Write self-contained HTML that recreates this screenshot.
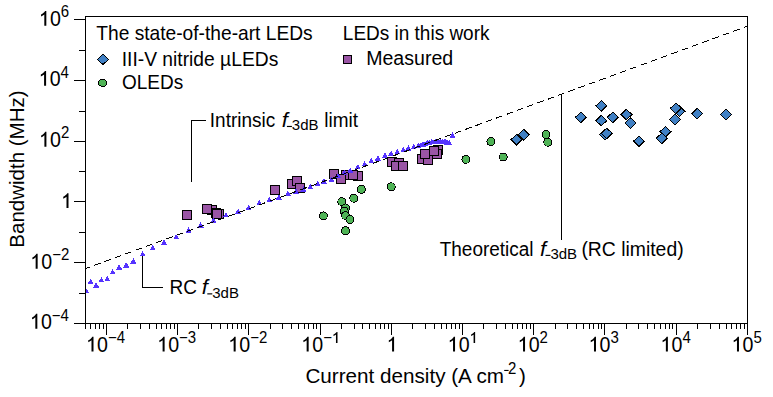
<!DOCTYPE html><html><head><meta charset="utf-8"><style>html,body{margin:0;padding:0;background:#fff;overflow:hidden}svg{display:block}</style></head><body><svg width="773" height="397" viewBox="0 0 773 397">
<rect width="773" height="397" fill="#fff"/>
<path d="M74,19.5H85 M74,80.5H85 M74,141.5H85 M74,201.5H85 M74,262.5H85 M74,323.5H85 M79,50.5H85 M79,111.5H85 M79,171.5H85 M79,232.5H85 M79,293.5H85 M85.5,323V329 M90.5,323V329 M95.5,323V329 M99.5,323V329 M103.5,323V329 M106.5,323V335 M127.5,323V329 M140.5,323V329 M149.5,323V329 M156.5,323V329 M161.5,323V329 M166.5,323V329 M170.5,323V329 M174.5,323V329 M177.5,323V335 M198.5,323V329 M211.5,323V329 M220.5,323V329 M227.5,323V329 M232.5,323V329 M237.5,323V329 M241.5,323V329 M245.5,323V329 M248.5,323V335 M270.5,323V329 M282.5,323V329 M291.5,323V329 M298.5,323V329 M304.5,323V329 M308.5,323V329 M313.5,323V329 M316.5,323V329 M320.5,323V335 M341.5,323V329 M354.5,323V329 M362.5,323V329 M369.5,323V329 M375.5,323V329 M380.5,323V329 M384.5,323V329 M388.5,323V329 M391.5,323V335 M412.5,323V329 M425.5,323V329 M434.5,323V329 M441.5,323V329 M446.5,323V329 M451.5,323V329 M455.5,323V329 M459.5,323V329 M462.5,323V335 M483.5,323V329 M496.5,323V329 M505.5,323V329 M512.5,323V329 M517.5,323V329 M522.5,323V329 M526.5,323V329 M530.5,323V329 M533.5,323V335 M555.5,323V329 M567.5,323V329 M576.5,323V329 M583.5,323V329 M589.5,323V329 M593.5,323V329 M598.5,323V329 M601.5,323V329 M604.5,323V335 M626.5,323V329 M638.5,323V329 M647.5,323V329 M654.5,323V329 M660.5,323V329 M665.5,323V329 M669.5,323V329 M672.5,323V329 M676.5,323V335 M697.5,323V329 M710.5,323V329 M719.5,323V329 M726.5,323V329 M731.5,323V329 M736.5,323V329 M740.5,323V329 M744.5,323V329 M747.5,323V335" stroke="#000" stroke-width="1" fill="none" shape-rendering="crispEdges"/>
<defs><clipPath id="pc"><rect x="85.5" y="16.5" width="662.0" height="307.0"/></clipPath></defs>
<g clip-path="url(#pc)">
<circle cx="323.3" cy="215.9" r="4" fill="#4fb356" stroke="#000" stroke-width="1" shape-rendering="crispEdges"/>
<circle cx="341.8" cy="201.7" r="4" fill="#4fb356" stroke="#000" stroke-width="1" shape-rendering="crispEdges"/>
<circle cx="345.5" cy="207.9" r="4" fill="#4fb356" stroke="#000" stroke-width="1" shape-rendering="crispEdges"/>
<circle cx="344.4" cy="211.4" r="4" fill="#4fb356" stroke="#000" stroke-width="1" shape-rendering="crispEdges"/>
<circle cx="345.5" cy="215.5" r="4" fill="#4fb356" stroke="#000" stroke-width="1" shape-rendering="crispEdges"/>
<circle cx="349.9" cy="219.4" r="4" fill="#4fb356" stroke="#000" stroke-width="1" shape-rendering="crispEdges"/>
<circle cx="345.5" cy="230.8" r="4" fill="#4fb356" stroke="#000" stroke-width="1" shape-rendering="crispEdges"/>
<circle cx="353.8" cy="198.2" r="4" fill="#4fb356" stroke="#000" stroke-width="1" shape-rendering="crispEdges"/>
<circle cx="361.4" cy="189.4" r="4" fill="#4fb356" stroke="#000" stroke-width="1" shape-rendering="crispEdges"/>
<circle cx="391.2" cy="186.8" r="4" fill="#4fb356" stroke="#000" stroke-width="1" shape-rendering="crispEdges"/>
<circle cx="465.9" cy="159.3" r="4" fill="#4fb356" stroke="#000" stroke-width="1" shape-rendering="crispEdges"/>
<circle cx="490.9" cy="141.7" r="4" fill="#4fb356" stroke="#000" stroke-width="1" shape-rendering="crispEdges"/>
<circle cx="503.2" cy="157.0" r="4" fill="#4fb356" stroke="#000" stroke-width="1" shape-rendering="crispEdges"/>
<circle cx="546.0" cy="134.7" r="4" fill="#4fb356" stroke="#000" stroke-width="1" shape-rendering="crispEdges"/>
<circle cx="547.8" cy="142.2" r="4" fill="#4fb356" stroke="#000" stroke-width="1" shape-rendering="crispEdges"/>
<path d="M511.10,139.6L516.6,134.30L522.10,139.6L516.6,144.90Z" fill="#4080c4" stroke="#000" stroke-width="1" shape-rendering="crispEdges"/>
<path d="M518.20,134.7L523.7,129.40L529.20,134.7L523.7,140.00Z" fill="#4080c4" stroke="#000" stroke-width="1" shape-rendering="crispEdges"/>
<path d="M575.40,117.3L580.9,112.00L586.40,117.3L580.9,122.60Z" fill="#4080c4" stroke="#000" stroke-width="1" shape-rendering="crispEdges"/>
<path d="M595.80,105.9L601.3,100.60L606.80,105.9L601.3,111.20Z" fill="#4080c4" stroke="#000" stroke-width="1" shape-rendering="crispEdges"/>
<path d="M595.80,120.6L601.3,115.30L606.80,120.6L601.3,125.90Z" fill="#4080c4" stroke="#000" stroke-width="1" shape-rendering="crispEdges"/>
<path d="M607.30,117.3L612.8,112.00L618.30,117.3L612.8,122.60Z" fill="#4080c4" stroke="#000" stroke-width="1" shape-rendering="crispEdges"/>
<path d="M599.60,134.5L605.1,129.20L610.60,134.5L605.1,139.80Z" fill="#4080c4" stroke="#000" stroke-width="1" shape-rendering="crispEdges"/>
<path d="M601.20,133.4L606.7,128.10L612.20,133.4L606.7,138.70Z" fill="#4080c4" stroke="#000" stroke-width="1" shape-rendering="crispEdges"/>
<path d="M620.90,114.5L626.4,109.20L631.90,114.5L626.4,119.80Z" fill="#4080c4" stroke="#000" stroke-width="1" shape-rendering="crispEdges"/>
<path d="M625.00,123.1L630.5,117.80L636.00,123.1L630.5,128.40Z" fill="#4080c4" stroke="#000" stroke-width="1" shape-rendering="crispEdges"/>
<path d="M633.50,141.2L639,135.90L644.50,141.2L639,146.50Z" fill="#4080c4" stroke="#000" stroke-width="1" shape-rendering="crispEdges"/>
<path d="M660.00,131.7L665.5,126.40L671.00,131.7L665.5,137.00Z" fill="#4080c4" stroke="#000" stroke-width="1" shape-rendering="crispEdges"/>
<path d="M656.30,138.3L661.8,133.00L667.30,138.3L661.8,143.60Z" fill="#4080c4" stroke="#000" stroke-width="1" shape-rendering="crispEdges"/>
<path d="M669.40,119.5L674.9,114.20L680.40,119.5L674.9,124.80Z" fill="#4080c4" stroke="#000" stroke-width="1" shape-rendering="crispEdges"/>
<path d="M674.00,111.3L679.5,106.00L685.00,111.3L679.5,116.60Z" fill="#4080c4" stroke="#000" stroke-width="1" shape-rendering="crispEdges"/>
<path d="M670.40,108.3L675.9,103.00L681.40,108.3L675.9,113.60Z" fill="#4080c4" stroke="#000" stroke-width="1" shape-rendering="crispEdges"/>
<path d="M691.60,113.7L697.1,108.40L702.60,113.7L697.1,119.00Z" fill="#4080c4" stroke="#000" stroke-width="1" shape-rendering="crispEdges"/>
<path d="M720.60,114.5L726.1,109.20L731.60,114.5L726.1,119.80Z" fill="#4080c4" stroke="#000" stroke-width="1" shape-rendering="crispEdges"/>
<rect x="182.5" y="210.5" width="9" height="9" fill="#9a55a5" stroke="#000" stroke-width="1" shape-rendering="crispEdges"/>
<rect x="207.5" y="205.5" width="9" height="9" fill="#9a55a5" stroke="#000" stroke-width="1" shape-rendering="crispEdges"/>
<rect x="202.5" y="204.5" width="9" height="9" fill="#9a55a5" stroke="#000" stroke-width="1" shape-rendering="crispEdges"/>
<rect x="211.5" y="208.5" width="9" height="9" fill="#9a55a5" stroke="#000" stroke-width="1" shape-rendering="crispEdges"/>
<rect x="214.5" y="209.5" width="9" height="9" fill="#9a55a5" stroke="#000" stroke-width="1" shape-rendering="crispEdges"/>
<rect x="212.5" y="209.5" width="9" height="9" fill="#9a55a5" stroke="#000" stroke-width="1" shape-rendering="crispEdges"/>
<rect x="270.5" y="185.5" width="9" height="9" fill="#9a55a5" stroke="#000" stroke-width="1" shape-rendering="crispEdges"/>
<rect x="287.5" y="179.5" width="9" height="9" fill="#9a55a5" stroke="#000" stroke-width="1" shape-rendering="crispEdges"/>
<rect x="292.5" y="176.5" width="9" height="9" fill="#9a55a5" stroke="#000" stroke-width="1" shape-rendering="crispEdges"/>
<rect x="295.5" y="183.5" width="9" height="9" fill="#9a55a5" stroke="#000" stroke-width="1" shape-rendering="crispEdges"/>
<rect x="329.5" y="169.5" width="9" height="9" fill="#9a55a5" stroke="#000" stroke-width="1" shape-rendering="crispEdges"/>
<rect x="341.5" y="170.5" width="9" height="9" fill="#9a55a5" stroke="#000" stroke-width="1" shape-rendering="crispEdges"/>
<rect x="353.5" y="171.5" width="9" height="9" fill="#9a55a5" stroke="#000" stroke-width="1" shape-rendering="crispEdges"/>
<rect x="336.5" y="174.5" width="9" height="9" fill="#9a55a5" stroke="#000" stroke-width="1" shape-rendering="crispEdges"/>
<rect x="348.5" y="170.5" width="9" height="9" fill="#9a55a5" stroke="#000" stroke-width="1" shape-rendering="crispEdges"/>
<rect x="387.5" y="157.5" width="9" height="9" fill="#9a55a5" stroke="#000" stroke-width="1" shape-rendering="crispEdges"/>
<rect x="394.5" y="158.5" width="9" height="9" fill="#9a55a5" stroke="#000" stroke-width="1" shape-rendering="crispEdges"/>
<rect x="391.5" y="161.5" width="9" height="9" fill="#9a55a5" stroke="#000" stroke-width="1" shape-rendering="crispEdges"/>
<rect x="398.5" y="161.5" width="9" height="9" fill="#9a55a5" stroke="#000" stroke-width="1" shape-rendering="crispEdges"/>
<rect x="417.5" y="154.5" width="9" height="9" fill="#9a55a5" stroke="#000" stroke-width="1" shape-rendering="crispEdges"/>
<rect x="423.5" y="155.5" width="9" height="9" fill="#9a55a5" stroke="#000" stroke-width="1" shape-rendering="crispEdges"/>
<rect x="420.5" y="149.5" width="9" height="9" fill="#9a55a5" stroke="#000" stroke-width="1" shape-rendering="crispEdges"/>
<rect x="433.5" y="145.5" width="9" height="9" fill="#9a55a5" stroke="#000" stroke-width="1" shape-rendering="crispEdges"/>
<rect x="432.5" y="149.5" width="9" height="9" fill="#9a55a5" stroke="#000" stroke-width="1" shape-rendering="crispEdges"/>
<rect x="429.5" y="146.5" width="9" height="9" fill="#9a55a5" stroke="#000" stroke-width="1" shape-rendering="crispEdges"/>
<path d="M83.20,293.40L89.20,293.40L86.2,288.00Z" fill="#5533ff" shape-rendering="crispEdges"/>
<path d="M87.60,284.10L93.60,284.10L90.6,278.70Z" fill="#5533ff" shape-rendering="crispEdges"/>
<path d="M93.20,287.60L99.20,287.60L96.2,282.20Z" fill="#5533ff" shape-rendering="crispEdges"/>
<path d="M98.50,282.30L104.50,282.30L101.5,276.90Z" fill="#5533ff" shape-rendering="crispEdges"/>
<path d="M104.30,281.10L110.30,281.10L107.3,275.70Z" fill="#5533ff" shape-rendering="crispEdges"/>
<path d="M109.60,274.40L115.60,274.40L112.6,269.00Z" fill="#5533ff" shape-rendering="crispEdges"/>
<path d="M116.20,269.60L122.20,269.60L119.2,264.20Z" fill="#5533ff" shape-rendering="crispEdges"/>
<path d="M123.20,267.50L129.20,267.50L126.2,262.10Z" fill="#5533ff" shape-rendering="crispEdges"/>
<path d="M130.30,263.50L136.30,263.50L133.3,258.10Z" fill="#5533ff" shape-rendering="crispEdges"/>
<path d="M139.60,256.40L145.60,256.40L142.6,251.00Z" fill="#5533ff" shape-rendering="crispEdges"/>
<path d="M149.70,250.20L155.70,250.20L152.7,244.80Z" fill="#5533ff" shape-rendering="crispEdges"/>
<path d="M161.10,244.60L167.10,244.60L164.1,239.20Z" fill="#5533ff" shape-rendering="crispEdges"/>
<path d="M173.10,239.30L179.10,239.30L176.1,233.90Z" fill="#5533ff" shape-rendering="crispEdges"/>
<path d="M185.50,232.80L191.50,232.80L188.5,227.40Z" fill="#5533ff" shape-rendering="crispEdges"/>
<path d="M197.60,227.50L203.60,227.50L200.6,222.10Z" fill="#5533ff" shape-rendering="crispEdges"/>
<path d="M210.30,222.70L216.30,222.70L213.3,217.30Z" fill="#5533ff" shape-rendering="crispEdges"/>
<path d="M223.00,217.40L229.00,217.40L226,212.00Z" fill="#5533ff" shape-rendering="crispEdges"/>
<path d="M235.10,214.00L241.10,214.00L238.1,208.60Z" fill="#5533ff" shape-rendering="crispEdges"/>
<path d="M245.60,210.00L251.60,210.00L248.6,204.60Z" fill="#5533ff" shape-rendering="crispEdges"/>
<path d="M256.30,205.30L262.30,205.30L259.3,199.90Z" fill="#5533ff" shape-rendering="crispEdges"/>
<path d="M266.40,201.90L272.40,201.90L269.4,196.50Z" fill="#5533ff" shape-rendering="crispEdges"/>
<path d="M275.90,199.50L281.90,199.50L278.9,194.10Z" fill="#5533ff" shape-rendering="crispEdges"/>
<path d="M284.90,195.90L290.90,195.90L287.9,190.50Z" fill="#5533ff" shape-rendering="crispEdges"/>
<path d="M292.90,193.60L298.90,193.60L295.9,188.20Z" fill="#5533ff" shape-rendering="crispEdges"/>
<path d="M300.40,191.60L306.40,191.60L303.4,186.20Z" fill="#5533ff" shape-rendering="crispEdges"/>
<path d="M307.20,189.30L313.20,189.30L310.2,183.90Z" fill="#5533ff" shape-rendering="crispEdges"/>
<path d="M314.80,186.30L320.80,186.30L317.8,180.90Z" fill="#5533ff" shape-rendering="crispEdges"/>
<path d="M320.80,183.60L326.80,183.60L323.8,178.20Z" fill="#5533ff" shape-rendering="crispEdges"/>
<path d="M328.40,181.80L334.40,181.80L331.4,176.40Z" fill="#5533ff" shape-rendering="crispEdges"/>
<path d="M335.20,178.40L341.20,178.40L338.2,173.00Z" fill="#5533ff" shape-rendering="crispEdges"/>
<path d="M341.20,175.00L347.20,175.00L344.2,169.60Z" fill="#5533ff" shape-rendering="crispEdges"/>
<path d="M347.20,172.70L353.20,172.70L350.2,167.30Z" fill="#5533ff" shape-rendering="crispEdges"/>
<path d="M354.80,169.40L360.80,169.40L357.8,164.00Z" fill="#5533ff" shape-rendering="crispEdges"/>
<path d="M361.60,166.40L367.60,166.40L364.6,161.00Z" fill="#5533ff" shape-rendering="crispEdges"/>
<path d="M368.40,163.30L374.40,163.30L371.4,157.90Z" fill="#5533ff" shape-rendering="crispEdges"/>
<path d="M374.90,160.60L380.90,160.60L377.9,155.20Z" fill="#5533ff" shape-rendering="crispEdges"/>
<path d="M382.00,157.90L388.00,157.90L385,152.50Z" fill="#5533ff" shape-rendering="crispEdges"/>
<path d="M388.20,155.80L394.20,155.80L391.2,150.40Z" fill="#5533ff" shape-rendering="crispEdges"/>
<path d="M394.30,154.10L400.30,154.10L397.3,148.70Z" fill="#5533ff" shape-rendering="crispEdges"/>
<path d="M400.20,152.30L406.20,152.30L403.2,146.90Z" fill="#5533ff" shape-rendering="crispEdges"/>
<path d="M405.40,150.50L411.40,150.50L408.4,145.10Z" fill="#5533ff" shape-rendering="crispEdges"/>
<path d="M410.70,149.10L416.70,149.10L413.7,143.70Z" fill="#5533ff" shape-rendering="crispEdges"/>
<path d="M415.50,147.90L421.50,147.90L418.5,142.50Z" fill="#5533ff" shape-rendering="crispEdges"/>
<path d="M418.00,147.40L424.00,147.40L421,142.00Z" fill="#5533ff" shape-rendering="crispEdges"/>
<path d="M419.90,146.60L425.90,146.60L422.9,141.20Z" fill="#5533ff" shape-rendering="crispEdges"/>
<path d="M422.00,146.10L428.00,146.10L425,140.70Z" fill="#5533ff" shape-rendering="crispEdges"/>
<path d="M424.30,145.20L430.30,145.20L427.3,139.80Z" fill="#5533ff" shape-rendering="crispEdges"/>
<path d="M426.50,145.10L432.50,145.10L429.5,139.70Z" fill="#5533ff" shape-rendering="crispEdges"/>
<path d="M428.70,144.40L434.70,144.40L431.7,139.00Z" fill="#5533ff" shape-rendering="crispEdges"/>
<path d="M431.00,144.10L437.00,144.10L434,138.70Z" fill="#5533ff" shape-rendering="crispEdges"/>
<path d="M433.10,143.50L439.10,143.50L436.1,138.10Z" fill="#5533ff" shape-rendering="crispEdges"/>
<path d="M435.30,143.80L441.30,143.80L438.3,138.40Z" fill="#5533ff" shape-rendering="crispEdges"/>
<path d="M437.50,143.80L443.50,143.80L440.5,138.40Z" fill="#5533ff" shape-rendering="crispEdges"/>
<path d="M439.70,144.10L445.70,144.10L442.7,138.70Z" fill="#5533ff" shape-rendering="crispEdges"/>
<path d="M442.00,143.80L448.00,143.80L445,138.40Z" fill="#5533ff" shape-rendering="crispEdges"/>
<path d="M444.20,144.60L450.20,144.60L447.2,139.20Z" fill="#5533ff" shape-rendering="crispEdges"/>
<path d="M446.40,145.20L452.40,145.20L449.4,139.80Z" fill="#5533ff" shape-rendering="crispEdges"/>
<path d="M449.50,137.70L455.50,137.70L452.5,132.30Z" fill="#5533ff" shape-rendering="crispEdges"/>
<path d="M85.7,268.5L747.5,26.1" stroke="#000" stroke-width="1" stroke-dasharray="6.7 4.277" stroke-dashoffset="1.93" fill="none" shape-rendering="crispEdges"/>
</g>
<rect x="85.5" y="16.5" width="662" height="307" fill="none" stroke="#000" stroke-width="1" shape-rendering="crispEdges"/>
<path d="M191.5,182V120.5H206 M142.5,256V287.5H163 M561.5,94V240" stroke="#000" stroke-width="1" fill="none" shape-rendering="crispEdges"/>
<path transform="translate(39.02,25.80) scale(0.00957,-0.01061)" d="M763 0L553 0L553 1070Q498 1020 402 966Q306 912 213 882L213 1060Q362 1126 474 1222Q586 1318 633 1400L763 1400Z" fill="#000"/><text transform="translate(49.92,25.80) scale(0.956,1.06)" font-family="Liberation Sans, sans-serif" font-size="20.5">0</text>
<text transform="translate(60.82,16.70) scale(1.0,1.08)" font-family="Liberation Sans, sans-serif" font-size="15">6</text>
<path transform="translate(38.80,85.80) scale(0.00957,-0.01061)" d="M763 0L553 0L553 1070Q498 1020 402 966Q306 912 213 882L213 1060Q362 1126 474 1222Q586 1318 633 1400L763 1400Z" fill="#000"/><text transform="translate(49.70,85.80) scale(0.956,1.06)" font-family="Liberation Sans, sans-serif" font-size="20.5">0</text>
<text transform="translate(60.60,77.60) scale(1.0,1.08)" font-family="Liberation Sans, sans-serif" font-size="15">4</text>
<path transform="translate(39.11,146.70) scale(0.00957,-0.01061)" d="M763 0L553 0L553 1070Q498 1020 402 966Q306 912 213 882L213 1060Q362 1126 474 1222Q586 1318 633 1400L763 1400Z" fill="#000"/><text transform="translate(50.01,146.70) scale(0.956,1.06)" font-family="Liberation Sans, sans-serif" font-size="20.5">0</text>
<text transform="translate(60.91,138.10) scale(1.0,1.08)" font-family="Liberation Sans, sans-serif" font-size="15">2</text>
<path transform="translate(61.20,208.00) scale(0.00957,-0.01061)" d="M763 0L553 0L553 1070Q498 1020 402 966Q306 912 213 882L213 1060Q362 1126 474 1222Q586 1318 633 1400L763 1400Z" fill="#000"/>
<path transform="translate(30.35,268.70) scale(0.00957,-0.01061)" d="M763 0L553 0L553 1070Q498 1020 402 966Q306 912 213 882L213 1060Q362 1126 474 1222Q586 1318 633 1400L763 1400Z" fill="#000"/><text transform="translate(41.25,268.70) scale(0.956,1.06)" font-family="Liberation Sans, sans-serif" font-size="20.5">0</text>
<text transform="translate(52.15,260.10) scale(1.0,1.08)" font-family="Liberation Sans, sans-serif" font-size="15">−2</text>
<path transform="translate(30.04,328.70) scale(0.00957,-0.01061)" d="M763 0L553 0L553 1070Q498 1020 402 966Q306 912 213 882L213 1060Q362 1126 474 1222Q586 1318 633 1400L763 1400Z" fill="#000"/><text transform="translate(40.94,328.70) scale(0.956,1.06)" font-family="Liberation Sans, sans-serif" font-size="20.5">0</text>
<text transform="translate(51.84,321.00) scale(1.0,1.08)" font-family="Liberation Sans, sans-serif" font-size="15">−4</text>
<path transform="translate(86.20,351.60) scale(0.00957,-0.01061)" d="M763 0L553 0L553 1070Q498 1020 402 966Q306 912 213 882L213 1060Q362 1126 474 1222Q586 1318 633 1400L763 1400Z" fill="#000"/><text transform="translate(97.10,351.60) scale(0.956,1.06)" font-family="Liberation Sans, sans-serif" font-size="20.5">0</text>
<text transform="translate(108.00,343.00) scale(1.0,1.08)" font-family="Liberation Sans, sans-serif" font-size="15">−4</text>
<path transform="translate(157.31,351.60) scale(0.00957,-0.01061)" d="M763 0L553 0L553 1070Q498 1020 402 966Q306 912 213 882L213 1060Q362 1126 474 1222Q586 1318 633 1400L763 1400Z" fill="#000"/><text transform="translate(168.21,351.60) scale(0.956,1.06)" font-family="Liberation Sans, sans-serif" font-size="20.5">0</text>
<text transform="translate(179.11,343.00) scale(1.0,1.08)" font-family="Liberation Sans, sans-serif" font-size="15">−3</text>
<path transform="translate(228.36,351.60) scale(0.00957,-0.01061)" d="M763 0L553 0L553 1070Q498 1020 402 966Q306 912 213 882L213 1060Q362 1126 474 1222Q586 1318 633 1400L763 1400Z" fill="#000"/><text transform="translate(239.26,351.60) scale(0.956,1.06)" font-family="Liberation Sans, sans-serif" font-size="20.5">0</text>
<text transform="translate(250.16,343.00) scale(1.0,1.08)" font-family="Liberation Sans, sans-serif" font-size="15">−2</text>
<path transform="translate(301.36,351.60) scale(0.00957,-0.01061)" d="M763 0L553 0L553 1070Q498 1020 402 966Q306 912 213 882L213 1060Q362 1126 474 1222Q586 1318 633 1400L763 1400Z" fill="#000"/><text transform="translate(312.26,351.60) scale(0.956,1.06)" font-family="Liberation Sans, sans-serif" font-size="20.5">0</text>
<text transform="translate(323.16,343.00) scale(1.0,1.08)" font-family="Liberation Sans, sans-serif" font-size="15">−</text><path transform="translate(331.92,343.00) scale(0.00732,-0.00791)" d="M763 0L553 0L553 1070Q498 1020 402 966Q306 912 213 882L213 1060Q362 1126 474 1222Q586 1318 633 1400L763 1400Z" fill="#000"/>
<path transform="translate(386.78,351.60) scale(0.00957,-0.01061)" d="M763 0L553 0L553 1070Q498 1020 402 966Q306 912 213 882L213 1060Q362 1126 474 1222Q586 1318 633 1400L763 1400Z" fill="#000"/>
<path transform="translate(447.74,351.60) scale(0.00957,-0.01061)" d="M763 0L553 0L553 1070Q498 1020 402 966Q306 912 213 882L213 1060Q362 1126 474 1222Q586 1318 633 1400L763 1400Z" fill="#000"/><text transform="translate(458.64,351.60) scale(0.956,1.06)" font-family="Liberation Sans, sans-serif" font-size="20.5">0</text>
<path transform="translate(469.54,343.00) scale(0.00732,-0.00791)" d="M763 0L553 0L553 1070Q498 1020 402 966Q306 912 213 882L213 1060Q362 1126 474 1222Q586 1318 633 1400L763 1400Z" fill="#000"/>
<path transform="translate(517.74,351.60) scale(0.00957,-0.01061)" d="M763 0L553 0L553 1070Q498 1020 402 966Q306 912 213 882L213 1060Q362 1126 474 1222Q586 1318 633 1400L763 1400Z" fill="#000"/><text transform="translate(528.64,351.60) scale(0.956,1.06)" font-family="Liberation Sans, sans-serif" font-size="20.5">0</text>
<text transform="translate(539.54,343.00) scale(1.0,1.08)" font-family="Liberation Sans, sans-serif" font-size="15">2</text>
<path transform="translate(588.69,351.60) scale(0.00957,-0.01061)" d="M763 0L553 0L553 1070Q498 1020 402 966Q306 912 213 882L213 1060Q362 1126 474 1222Q586 1318 633 1400L763 1400Z" fill="#000"/><text transform="translate(599.59,351.60) scale(0.956,1.06)" font-family="Liberation Sans, sans-serif" font-size="20.5">0</text>
<text transform="translate(610.49,343.00) scale(1.0,1.08)" font-family="Liberation Sans, sans-serif" font-size="15">3</text>
<path transform="translate(660.58,351.60) scale(0.00957,-0.01061)" d="M763 0L553 0L553 1070Q498 1020 402 966Q306 912 213 882L213 1060Q362 1126 474 1222Q586 1318 633 1400L763 1400Z" fill="#000"/><text transform="translate(671.48,351.60) scale(0.956,1.06)" font-family="Liberation Sans, sans-serif" font-size="20.5">0</text>
<text transform="translate(682.38,343.00) scale(1.0,1.08)" font-family="Liberation Sans, sans-serif" font-size="15">4</text>
<path transform="translate(731.68,351.60) scale(0.00957,-0.01061)" d="M763 0L553 0L553 1070Q498 1020 402 966Q306 912 213 882L213 1060Q362 1126 474 1222Q586 1318 633 1400L763 1400Z" fill="#000"/><text transform="translate(742.58,351.60) scale(0.956,1.06)" font-family="Liberation Sans, sans-serif" font-size="20.5">0</text>
<text transform="translate(753.48,343.00) scale(1.0,1.08)" font-family="Liberation Sans, sans-serif" font-size="15">5</text>
<text transform="translate(305.45,382.50) scale(1.008,1.03)" font-family="Liberation Sans, sans-serif" font-size="20.5">Current density (A cm</text>
<rect x="504.2" y="369.9" width="4.4" height="1.1" fill="#000"/>
<text transform="translate(508.05,374.00) scale(1,1.06)" font-family="Liberation Sans, sans-serif" font-size="15">2</text>
<text x="518.88" y="382.50" font-family="Liberation Sans, sans-serif" font-size="20.5">)</text>
<text transform="translate(24,247.68) rotate(-90)" font-family="Liberation Sans, sans-serif" font-size="20.5">Bandwidth (MHz)</text>
<text transform="translate(96.27,39.70) scale(1.01,1.06)" font-family="Liberation Sans, sans-serif" font-size="19">The state-of-the-art LEDs</text>
<text transform="translate(121.72,65.60) scale(1.014,1.06)" font-family="Liberation Sans, sans-serif" font-size="19">III-V nitride µLEDs</text>
<text transform="translate(122.00,89.00) scale(1,1.06)" font-family="Liberation Sans, sans-serif" font-size="19">OLEDs</text>
<text transform="translate(342.84,39.60) scale(1,1.06)" font-family="Liberation Sans, sans-serif" font-size="19">LEDs in this work</text>
<text transform="translate(366.19,65.30) scale(1.03,1.06)" font-family="Liberation Sans, sans-serif" font-size="19">Measured</text>
<path d="M97.5,59.4L103,54.2L108.5,59.4L103,64.6Z" fill="#4080c4" stroke="#000" stroke-width="1" shape-rendering="crispEdges"/>
<ellipse cx="102.6" cy="82.8" rx="4.2" ry="3.6" fill="#4fb356" stroke="#000" stroke-width="1" shape-rendering="crispEdges"/>
<rect x="343.5" y="55.5" width="8" height="8" fill="#9a55a5" stroke="#000" stroke-width="1" shape-rendering="crispEdges"/>
<text transform="translate(209.85,126.90) scale(1,1.06)" font-family="Liberation Sans, sans-serif" font-size="19">Intrinsic</text>
<text transform="translate(281.66,126.90) scale(1.15,1.06)" font-family="Liberation Sans, sans-serif" font-size="19" font-style="italic">f</text>
<rect x="286.90" y="125.90" width="5" height="1.15" fill="#000"/>
<text transform="translate(291.83,130.40) scale(1,1.03)" font-family="Liberation Sans, sans-serif" font-size="15">3dB</text>
<text transform="translate(324.32,126.90) scale(1,1.06)" font-family="Liberation Sans, sans-serif" font-size="19">limit</text>
<text transform="translate(169.44,294.00) scale(1,1.06)" font-family="Liberation Sans, sans-serif" font-size="19">RC</text>
<text transform="translate(201.76,294.00) scale(1.15,1.06)" font-family="Liberation Sans, sans-serif" font-size="19" font-style="italic">f</text>
<rect x="207.30" y="293.30" width="5" height="1.15" fill="#000"/>
<text transform="translate(212.23,297.80) scale(1,1.03)" font-family="Liberation Sans, sans-serif" font-size="15">3dB</text>
<text transform="translate(439.67,255.70) scale(1,1.06)" font-family="Liberation Sans, sans-serif" font-size="19">Theoretical</text>
<text transform="translate(539.96,255.70) scale(1.15,1.06)" font-family="Liberation Sans, sans-serif" font-size="19" font-style="italic">f</text>
<rect x="545.50" y="254.80" width="5" height="1.15" fill="#000"/>
<text transform="translate(550.43,259.30) scale(1,1.03)" font-family="Liberation Sans, sans-serif" font-size="15">3dB</text>
<text transform="translate(581.40,255.70) scale(1.02,1.06)" font-family="Liberation Sans, sans-serif" font-size="19">(RC limited)</text>
</svg></body></html>
